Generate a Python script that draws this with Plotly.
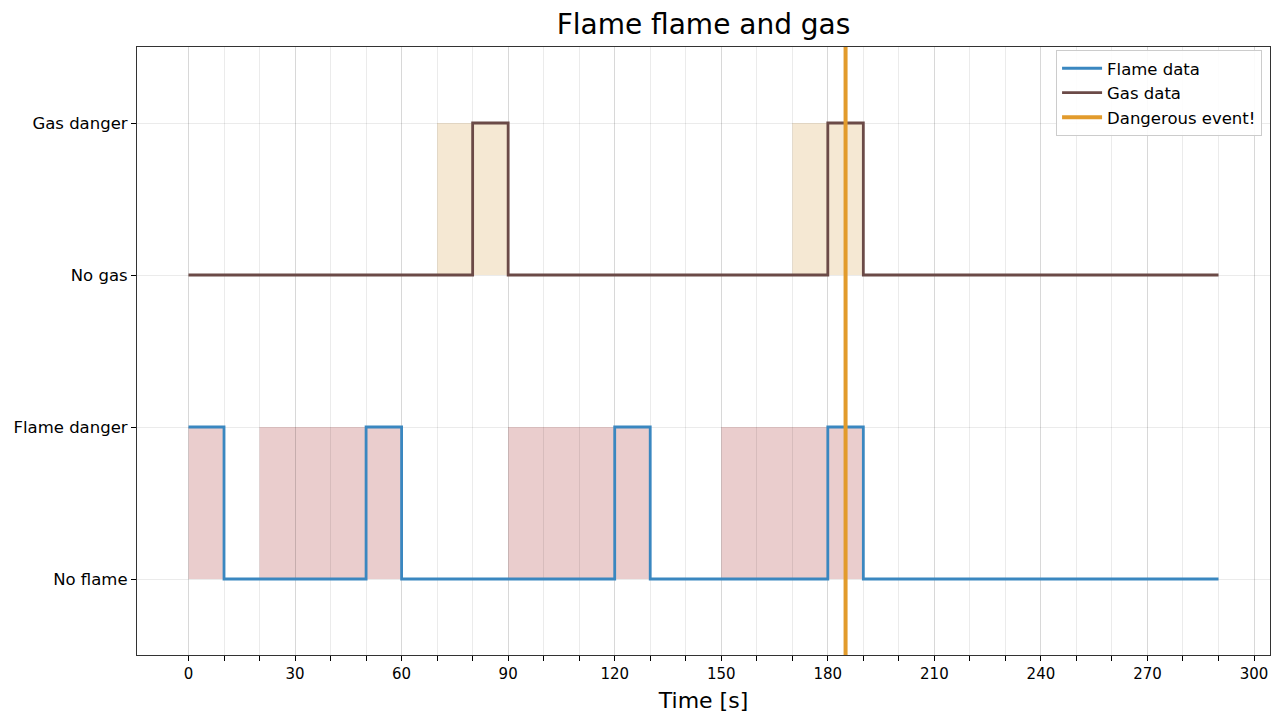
import plotly.graph_objects as go

# Data
flame_t = [0, 10, 50, 60, 120, 130, 180, 190, 290]
flame_v = [1, 0, 1, 0, 1, 0, 1, 0, 0]
gas_t = [0, 80, 90, 180, 190, 290]
gas_v = [2, 3, 2, 3, 2, 2]
flame_zones = [(0, 10), (20, 60), (90, 130), (150, 190)]
gas_zones = [(70, 90), (170, 190)]
event_t = 185
y_ticks = [0, 1, 2, 3]
y_labels = ["No flame", "Flame danger", "No gas", "Gas danger"]
x_ticks = list(range(0, 301, 30))
x_minor = list(range(0, 301, 10))

BLUE = "#3a87c0"
BROWN = "#6b4a47"
ORANGE = "#e29b2c"

fig = go.Figure()

shapes = []
for a, b in flame_zones:
    shapes.append(dict(type="rect", xref="x", yref="y", x0=a, x1=b, y0=0, y1=1,
                       fillcolor="rgba(190,100,100,0.32)", line_width=0, layer="below"))
for a, b in gas_zones:
    shapes.append(dict(type="rect", xref="x", yref="y", x0=a, x1=b, y0=2, y1=3,
                       fillcolor="rgba(225,190,130,0.35)", line_width=0, layer="below"))

fig.add_trace(go.Scatter(x=flame_t, y=flame_v, mode="lines", line=dict(color=BLUE, width=2.8, shape="hv"),
                         name="Flame data"))
fig.add_trace(go.Scatter(x=gas_t, y=gas_v, mode="lines", line=dict(color=BROWN, width=2.8, shape="hv"),
                         name="Gas data"))
fig.add_trace(go.Scatter(x=[event_t, event_t], y=[-0.5, 3.5], mode="lines",
                         line=dict(color=ORANGE, width=4), name="Dangerous event!"))

fig.update_layout(
    width=1284, height=715,
    paper_bgcolor="white", plot_bgcolor="white",
    margin=dict(l=137, r=14, t=47, b=60),
    font=dict(family="DejaVu Sans", size=15, color="black"),
    title=dict(text="Flame flame and gas", xref="paper", x=0.5, xanchor="center", y=0.966, yanchor="middle",
               font=dict(size=28, color="black")),
    shapes=shapes,
    showlegend=True,
    legend=dict(x=0.993, y=0.995, xanchor="right", yanchor="top",
                bgcolor="rgba(255,255,255,0.9)", bordercolor="#cccccc", borderwidth=1,
                font=dict(size=16.5), tracegroupgap=0, itemwidth=40),
)
fig.update_xaxes(range=[-14.5, 304.5], tickmode="array", tickvals=x_ticks, automargin=False,
                 ticks="outside", ticklen=5, tickcolor="black",
                 showgrid=True, gridcolor="rgba(0,0,0,0.08)", gridwidth=1,
                 minor=dict(tickmode="array", tickvals=x_minor, ticks="outside", ticklen=5, tickcolor="black",
                            showgrid=True, gridcolor="rgba(0,0,0,0.08)"),
                 showline=True, linecolor="#333333", linewidth=1.2, mirror=True, zeroline=False,
                 tickfont=dict(size=15),
                 title=dict(text="Time [s]", font=dict(size=22), standoff=10))
fig.update_yaxes(range=[-0.5, 3.5], tickmode="array", tickvals=y_ticks, ticktext=y_labels,
                 ticks="outside", ticklen=5, tickcolor="black", automargin=False,
                 showgrid=True, gridcolor="rgba(0,0,0,0.08)",
                 showline=True, linecolor="#333333", linewidth=1.2, mirror=True, zeroline=False,
                 tickfont=dict(size=16.5))

fig.write_html("out.html")
